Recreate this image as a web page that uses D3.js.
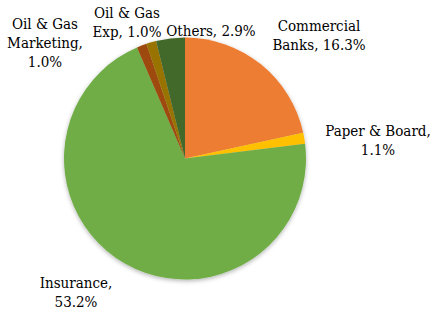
<!DOCTYPE html>
<html>
<head>
<meta charset="utf-8">
<script src="https://cdn.jsdelivr.net/npm/d3@7"></script>
<style>
  body { margin: 0; background: #fff; }
</style>
</head>
<body>
<div id="chart"></div>
<script>
'use strict';

// data
let sectors = ['Commercial Banks', 'Paper & Board', 'Insurance', 'Oil & Gas Marketing', 'Oil & Gas Exp', 'Others'];
let shares = [16.3, 1.1, 53.2, 1.0, 1.0, 2.9];
let labelLines = [
	['Commercial', 'Banks, 16.3%'],
	['Paper & Board,', '1.1%'],
	['Insurance,', '53.2%'],
	['Oil & Gas', 'Marketing,', '1.0%'],
	['Oil & Gas', 'Exp, 1.0%'],
	['Others, 2.9%']
];
let colors = ['#ED7D31', '#FFC000', '#70AD47', '#9E480E', '#997300', '#43682B'];

// label anchors (first baseline), laid out like the original
let labelAt = [[319, 31], [378, 136], [76, 288], [45, 29], [127, 18], [211, 36]];

const W = 431, H = 314;
const cx = 185, cy = 158.5, r = 121;
const FONT = '"DejaVu Serif Condensed", "DejaVu Serif", serif';

let svg = d3.select('#chart').append('svg')
	.attr('width', W)
	.attr('height', H);

let defs = svg.append('defs');
let f = defs.append('filter').attr('id', 'shadow')
	.attr('x', '-20%').attr('y', '-20%').attr('width', '140%').attr('height', '140%');
f.append('feDropShadow')
	.attr('dx', 0).attr('dy', 1.5)
	.attr('stdDeviation', 2)
	.attr('flood-color', '#000')
	.attr('flood-opacity', 0.3);

let rows = sectors.map((s, i) => ({name: s, value: shares[i], color: colors[i], lines: labelLines[i], at: labelAt[i]}));

let pie = d3.pie().sort(null).value(d => d.value);
let arc = d3.arc().innerRadius(0).outerRadius(r);

let g = svg.append('g')
	.attr('transform', `translate(${cx},${cy})`)
	.attr('filter', 'url(#shadow)');

g.selectAll('path.slice')
	.data(pie(rows))
	.join('path')
	.classed('slice', true)
	.attr('d', arc)
	.style('fill', d => d.data.color);

let labels = svg.selectAll('text.lbl')
	.data(rows)
	.join('text')
	.classed('lbl', true)
	.attr('text-anchor', 'middle')
	.attr('font-family', FONT)
	.attr('font-stretch', 'condensed')
	.attr('font-size', 15)
	.attr('fill', '#000')
	.attr('x', d => d.at[0])
	.attr('y', d => d.at[1]);

labels.selectAll('tspan')
	.data(d => d.lines.map((t, i) => ({t, i, x: d.at[0]})))
	.join('tspan')
	.attr('x', d => d.x)
	.attr('dy', d => d.i === 0 ? 0 : 19)
	.text(d => d.t);
</script>
</body>
</html>
